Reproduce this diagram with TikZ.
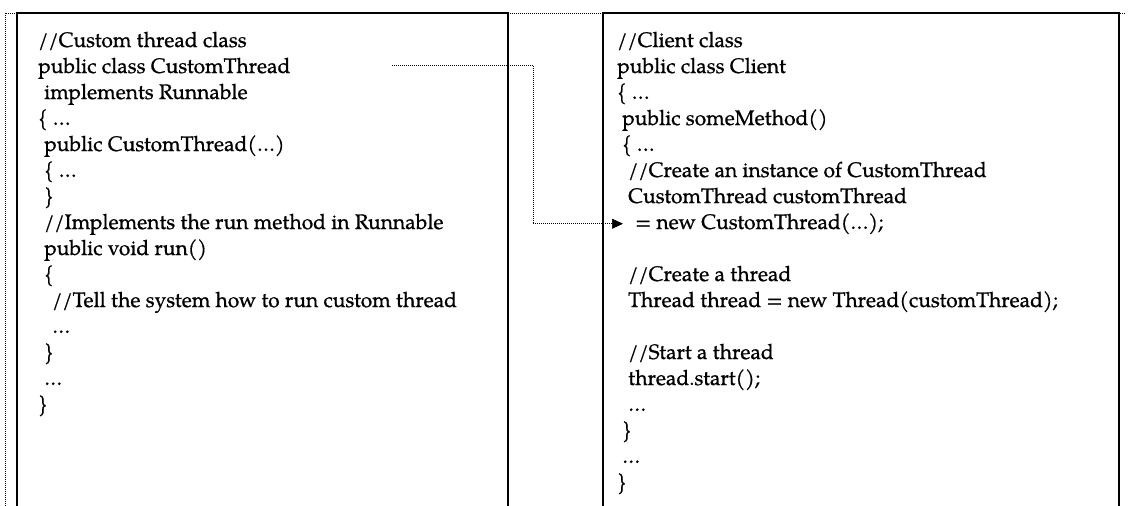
\documentclass[tikz,border=0pt]{standalone}
\usepackage{fontspec}
\setmainfont{TeX Gyre Pagella}[FakeBold=0.8]
\usetikzlibrary{arrows.meta}
\begin{document}
\begin{tikzpicture}[x=1pt,y=-1pt,
  codeline/.style={anchor=base west, inner sep=0pt, font=\fontsize{21}{26}\selectfont},
  frame/.style={line width=2.6pt, line join=miter},
  dots/.style={line width=0.7pt, dash pattern=on 0.9pt off 1.1pt}]
\useasboundingbox (0,0) rectangle (1130,506);

% outer dotted border (top and left edges)
\draw[dots] (5,506) -- (5,13) -- (1125,13);

% the two code panels, open at the bottom
\draw[frame] (17,506) -- (17,13) -- (508,13) -- (508,506);
\draw[frame] (603,506) -- (603,13) -- (1119,13) -- (1119,506);

% left panel: the custom thread class
\foreach \i/\x/\t in {
  0/38/{//Custom thread class},
  1/38/{public class CustomThread},
  2/44/{implements Runnable},
  3/38/{\{ \ldots},
  4/44/{public CustomThread(\ldots)},
  5/44/{\{ \ldots},
  6/44/{\}},
  7/44/{//Implements the run method in Runnable},
  8/44/{public void run()},
  9/44/{\{},
  10/52/{//Tell the system how to run custom thread},
  11/52/{\ldots},
  12/44/{\}},
  13/44/{\ldots},
  14/38/{\}}}
  \node[codeline] (L\i) at (\x,47+26*\i) {\t};

% right panel: the client class
\foreach \i/\x/\t in {
  0/617/{//Client class},
  1/617/{public class Client},
  2/617/{\{ \ldots},
  3/622/{public someMethod()},
  4/622/{\{ \ldots},
  5/628/{//Create an instance of CustomThread},
  6/628/{CustomThread customThread},
  7/635/{= new CustomThread(\ldots);},
  9/628/{//Create a thread},
  10/628/{Thread thread = new Thread(customThread);},
  12/628/{//Start a thread},
  13/628/{thread.start();},
  14/628/{\ldots},
  15/622/{\}},
  16/622/{\ldots},
  17/617/{\}}}
  \node[codeline] (R\i) at (\x,47+26*\i) {\t};

% dotted connector from the class declaration to its instantiation
\coordinate (cs) at (392,65);
\draw[dots,-{Triangle[length=11pt,width=10pt]}] (cs) -- ++(141,0) |- ([xshift=-12pt]R7.west);
\end{tikzpicture}
\end{document}
